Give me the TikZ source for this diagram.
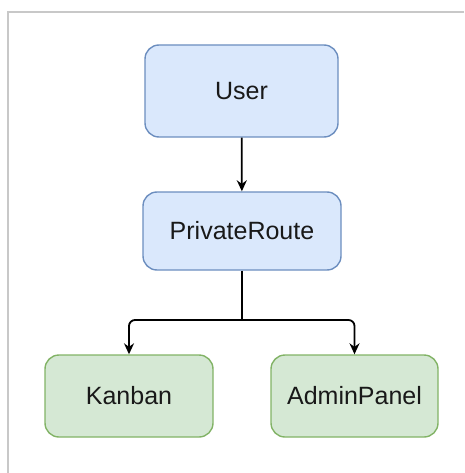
\documentclass[tikz,border=0pt]{standalone}
\usepackage{fontspec}
\setmainfont{Liberation Sans}
\usetikzlibrary{arrows.meta}

\definecolor{bluefill}{HTML}{DAE8FC}
\definecolor{blueline}{HTML}{6C8EBF}
\definecolor{greenfill}{HTML}{D5E8D4}
\definecolor{greenline}{HTML}{82B366}
\definecolor{framegray}{HTML}{C8C8C8}

\tikzset{
  box/.style={rounded corners=14pt, line width=1.4pt, minimum height=80pt,
    font=\fontsize{25}{30}\selectfont, text=black!90},
  bluebox/.style={box, draw=blueline, fill=bluefill},
  greenbox/.style={box, draw=greenline, fill=greenfill},
  link/.style={-{Stealth[length=11pt,width=10pt]}, line width=1.8pt}
}

\begin{document}
\begin{tikzpicture}[x=1pt,y=-1pt]
                \useasboundingbox (0,0) rectangle (464,473);
                \draw[framegray, line width=1.2pt] (8,473) -- (8,12) -- (464,12);
                \node[bluebox, minimum width=193pt, minimum height=92pt] (user) at (241.5,91) {User};
                \node[bluebox, minimum width=198pt, minimum height=78pt] (route) at (242,231) {PrivateRoute};
                \node[greenbox, minimum width=168pt, minimum height=82pt] (kanban) at (129,396) {Kanban};
                \node[greenbox, minimum width=167pt, minimum height=82pt] (admin) at (354.5,396) {AdminPanel};
                \coordinate (split) at (242,320);
                \draw[link] (user) -- (route);
                \draw[line width=1.8pt] (route.south) -- (split);
                \draw[link, rounded corners=6pt] (split) -| (kanban.north);
                \draw[link, rounded corners=6pt] (split) -| (admin.north);
            \end{tikzpicture}
\end{document}
